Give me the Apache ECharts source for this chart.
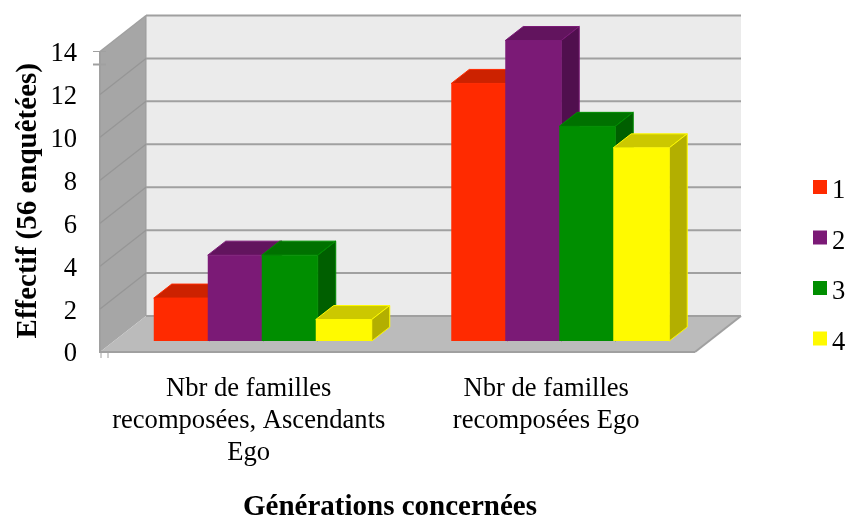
<!DOCTYPE html>
<html><head><meta charset="utf-8">
<style>html,body{margin:0;padding:0;background:#fff}#c{width:845px;height:518px}</style>
<script src="https://cdn.jsdelivr.net/npm/echarts@6/dist/echarts.min.js"></script>
</head><body><div id="c"></div>
<script>
const categories = ['Nbr de familles\nrecomposées, Ascendants\nEgo', 'Nbr de familles\nrecomposées Ego'];
const seriesNames = ['1', '2', '3', '4'];
const values1 = [2, 12];
const values2 = [4, 14];
const values3 = [4, 10];
const values4 = [1, 9];
const ticks = [0, 2, 4, 6, 8, 10, 12, 14];
const allValues = [values1, values2, values3, values4];
const colorsFront = ['#FF2A00', '#7B1A76', '#008E00', '#FFFA00'];
const colorsTop = ['#CC2200', '#62145E', '#007100', '#CCC800'];
const colorsSide = ['#B31D00', '#500F4E', '#005F00', '#B3AF00'];
const serif = '"Liberation Serif","Times New Roman",serif';

const DEPTH_X = 46, DEPTH_Y = -36;
const BAR_OFF_X = 14, BAR_OFF_Y = -11;
const BAR_D_X = 18, BAR_D_Y = -14;

function poly(points, fill, stroke, lw) {
  return {type: 'polygon', shape: {points}, style: {fill, stroke: stroke || null, lineWidth: lw || 0}};
}
function line(x1, y1, x2, y2, color, w) {
  return {type: 'line', shape: {x1, y1, x2, y2}, style: {stroke: color, lineWidth: w, fill: null}};
}
function renderWalls(params, api) {
  const v = api.value(0);
  const band = api.size([1, 0])[0];
  const left = api.coord([0, v])[0] - band / 2;
  const right = api.coord([1, v])[0] + band / 2;
  const y = api.coord([0, v])[1];
  const children = [];
  const gray = '#A0A0A0';
  if (params.dataIndex === 0) {
    const top = api.coord([0, ticks[ticks.length - 1]])[1];
    children.push(poly([[left + DEPTH_X, top + DEPTH_Y], [right + DEPTH_X, top + DEPTH_Y], [right + DEPTH_X, y + DEPTH_Y], [left + DEPTH_X, y + DEPTH_Y]], '#EBEBEB'));
    children.push(poly([[left, top], [left + DEPTH_X, top + DEPTH_Y], [left + DEPTH_X, y + DEPTH_Y], [left, y]], '#A6A6A6'));
    children.push(poly([[left, y], [left + DEPTH_X, y + DEPTH_Y], [right + DEPTH_X, y + DEPTH_Y], [right, y]], '#BBBBBB'));
    children.push(line(left, y, right, y, gray, 2));
    children.push(line(right, y, right + DEPTH_X, y + DEPTH_Y, gray, 2));
    children.push(line(left, top, left, y + 1, gray, 2));
    children.push(line(left + DEPTH_X, top + DEPTH_Y, left + DEPTH_X, y + DEPTH_Y, '#9A9A9A', 1));
    children.push(line(left, top, left + DEPTH_X, top + DEPTH_Y, gray, 1.5));
    children.push(line(left + 1, y, left + 1, y + 6, gray, 1));
    children.push(line(left + 8, y, left + 8, y + 6, gray, 1));
    children.push(line(left - 7, top, left + 6, top, gray, 1));
    children.push(line(left - 7, top + 13, left + 6, top + 13, gray, 2));
  } else if (v < ticks[ticks.length - 1]) {
    children.push(line(left, y, left + DEPTH_X, y + DEPTH_Y, '#969696', 1.3));
  }
  children.push(line(left + DEPTH_X, y + DEPTH_Y, right + DEPTH_X, y + DEPTH_Y, gray, 2));
  return {type: 'group', children};
}
function makeBarRender(i) {
  return function (params, api) {
    const pTop = api.coord([api.value(0), api.value(1)]);
    const pBase = api.coord([api.value(0), 0]);
    const band = api.size([1, 0])[0];
    const step = band * 0.1815, w = band * 0.1882;
    const x0 = pTop[0] + BAR_OFF_X - (step * 3 + w) / 2 + step * i;
    const x1 = x0 + w;
    const yT = pTop[1] + BAR_OFF_Y, yB = pBase[1] + BAR_OFF_Y;
    const f = colorsFront[i];
    return {type: 'group', children: [
      poly([[x0, yT], [x0 + BAR_D_X, yT + BAR_D_Y], [x1 + BAR_D_X, yT + BAR_D_Y], [x1, yT]], colorsTop[i], f, 1),
      poly([[x1, yT], [x1 + BAR_D_X, yT + BAR_D_Y], [x1 + BAR_D_X, yB + BAR_D_Y], [x1, yB]], colorsSide[i], f, 1),
      poly([[x0, yT], [x1, yT], [x1, yB], [x0, yB]], f)
    ]};
  };
}
const barSeries = seriesNames.map((name, i) => ({
  name, type: 'custom', coordinateSystem: 'cartesian2d', clip: false, silent: true,
  z: 3 + i, itemStyle: {color: colorsFront[i]},
  encode: {x: 0, y: 1},
  data: allValues[i].map((v, c) => [c, v]),
  renderItem: makeBarRender(i)
}));
const chart = echarts.init(document.getElementById('c'), null, {renderer: 'canvas'});
chart.setOption({
  animation: false,
  backgroundColor: '#fff',
  grid: {left: 100, top: 51.5, width: 595, height: 300.5, containLabel: false, outerBoundsMode: 'none'},
  xAxis: {
    type: 'category', data: categories,
    axisLine: {show: false}, axisTick: {show: false}, splitLine: {show: false},
    axisLabel: {interval: 0, hideOverlap: false, color: '#000', fontFamily: serif, fontSize: 26.6, lineHeight: 32, margin: 21},
    name: 'Générations concernées', nameLocation: 'middle', nameGap: 156, nameMoveOverlap: false,
    nameTextStyle: {color: '#000', fontFamily: serif, fontSize: 29, fontWeight: 'bold', verticalAlign: 'middle', padding: [0, 15, 0, 0]}
  },
  yAxis: {
    type: 'value', min: 0, max: 14, interval: 2,
    axisLine: {show: false}, axisTick: {show: false}, splitLine: {show: false},
    axisLabel: {
      color: '#000', fontFamily: serif, fontSize: 26.6, margin: 23,
      formatter: value => '{a|' + value + '}',
      rich: {a: {fontFamily: serif, fontSize: 26.6, color: '#000', padding: [5, 0, 0, 0]}}
    },
    name: 'Effectif (56 enquêtées)', nameLocation: 'middle', nameGap: 71, nameRotate: 90, nameMoveOverlap: false,
    nameTextStyle: {color: '#000', fontFamily: serif, fontSize: 29, fontWeight: 'bold', verticalAlign: 'middle', padding: [0, 0, 0, 2]}
  },
  legend: {
    show: true, orient: 'vertical', left: 813, top: 178, itemWidth: 14, itemHeight: 14, itemGap: 23.5, padding: 0,
    icon: 'rect', data: seriesNames, selectedMode: false,
    formatter: '{a|{name}}',
    textStyle: {
      color: '#000', fontFamily: serif, fontSize: 26.6,
      rich: {a: {fontFamily: serif, fontSize: 26.6, color: '#000', padding: [9, 0, 0, 0]}}
    }
  },
  series: [{
    name: 'walls', type: 'custom', coordinateSystem: 'cartesian2d', clip: false, silent: true, z: 1,
    encode: {y: 0},
    data: ticks.map(t => [t]),
    renderItem: renderWalls
  }].concat(barSeries)
});
</script></body></html>
